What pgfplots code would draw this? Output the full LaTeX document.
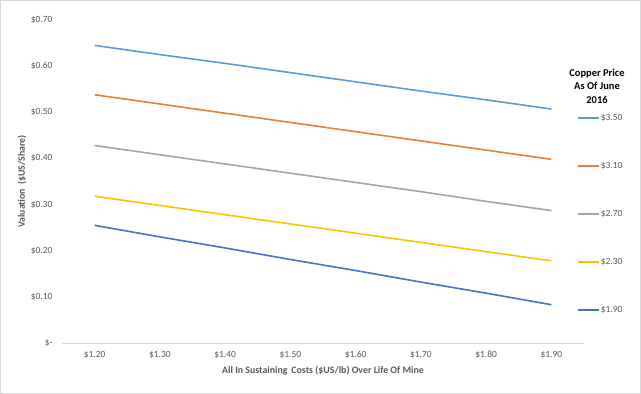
\documentclass[border=0pt]{standalone}
\usepackage{pgfplots}
\pgfplotsset{compat=1.18}
\usepackage{fontspec}
\setmainfont{Carlito}
\definecolor{cA}{HTML}{5B9BD5}
\definecolor{cB}{HTML}{ED7D31}
\definecolor{cC}{HTML}{A5A5A5}
\definecolor{cD}{HTML}{FFC000}
\definecolor{cE}{HTML}{4472C4}
\definecolor{txt}{HTML}{595959}
\definecolor{brd}{HTML}{D9D9D9}
\begin{document}
\begin{tikzpicture}[x=1bp,y=1bp]
\begin{axis}[
  at={(62bp,51bp)}, anchor=south west,
  scale only axis, width=522bp, height=323bp,
  xmin=-0.5, xmax=7.5, ymin=0, ymax=0.7,
  xtick={0,...,7},
  xticklabels={\$1.20,\$1.30,\$1.40,\$1.50,\$1.60,\$1.70,\$1.80,\$1.90},
  ytick={0,0.1,0.2,0.3,0.4,0.5,0.6,0.7},
  yticklabels={\$-,\$0.10,\$0.20,\$0.30,\$0.40,\$0.50,\$0.60,\$0.70},
  major tick length=0pt,
  axis lines*=left,
  x axis line style={draw=brd, line width=1bp, -},
  y axis line style={draw=none},
  ticklabel style={font=\fontsize{9.5}{10}\selectfont, text=txt},
  yticklabel style={anchor=east, xshift=-6bp},
  xticklabel style={anchor=north, yshift=-4.5bp},
  xlabel={All In Sustaining\, Costs (\$US/lb) Over Life Of Mine},
  ylabel={Valuation\,\ (\$US/Share)},
  label style={font=\bfseries\fontsize{9.9}{11}\selectfont, text=txt},
  xlabel style={at={(axis description cs:0.5,-0.0867)}, anchor=center},
  ylabel style={at={(axis description cs:-0.0766,0.5)}, anchor=center},
  legend style={at={(axis description cs:0.9866,0.7105)}, anchor=north west,
    draw=none, fill=none, inner sep=0pt, row sep=40bp,
    font=\fontsize{9.5}{10}\selectfont, text=txt,
    nodes={inner sep=1bp, text height=6bp, text depth=0bp}},
  legend cell align=left,
  legend image code/.code={\draw[#1] (0bp,0bp) -- (21bp,0bp);},
  every axis plot/.append style={line width=1.6bp},
]
\addplot[cA] coordinates {(0,0.645) (1,0.625) (2,0.606) (3,0.586) (4,0.566) (5,0.546) (6,0.527) (7,0.507)};
\addlegendentry{\$3.50}
\addplot[cB] coordinates {(0,0.538) (1,0.518) (2,0.498) (3,0.478) (4,0.458) (5,0.438) (6,0.418) (7,0.398)};
\addlegendentry{\$3.10}
\addplot[cC] coordinates {(0,0.428) (1,0.408) (2,0.388) (3,0.368) (4,0.348) (5,0.328) (6,0.307) (7,0.287)};
\addlegendentry{\$2.70}
\addplot[cD] coordinates {(0,0.318) (1,0.298) (2,0.278) (3,0.258) (4,0.238) (5,0.218) (6,0.198) (7,0.178)};
\addlegendentry{\$2.30}
\addplot[cE] coordinates {(0,0.255) (1,0.230) (2,0.206) (3,0.181) (4,0.157) (5,0.132) (6,0.108) (7,0.083)};
\addlegendentry{\$1.90}
\end{axis}
\node[align=center, font=\bfseries\fontsize{10.5}{13.5}\selectfont, text=black] at (597bp,308bp) {Copper Price\\As Of June\\2016};
\draw[brd, line width=1bp] (0.5bp,0.5bp) rectangle (640.5bp,393.5bp);
\path (0,0) rectangle (641bp,394bp);
\end{tikzpicture}
\end{document}
